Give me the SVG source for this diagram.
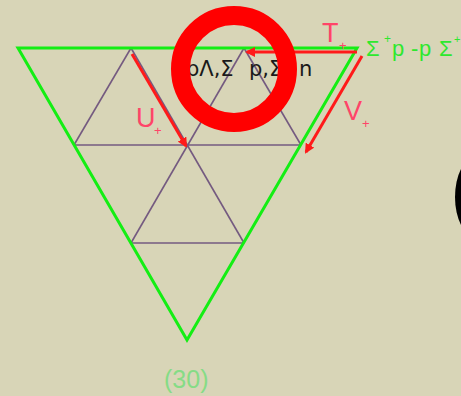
<svg xmlns="http://www.w3.org/2000/svg" width="461" height="396" viewBox="0 0 461 396">
<defs>
<style>
.grid{stroke:#745a80;stroke-width:1.6;fill:none}
.green{stroke:#14ee14;stroke-width:3;fill:none;stroke-linejoin:miter}
.arr{stroke:#ff1a1a;stroke-width:3;fill:none}
.lbl{font-family:"Liberation Sans",sans-serif;fill:#ff4468;font-size:27px}
.sub{font-family:"Liberation Sans",sans-serif;fill:#ff4468;font-size:13px}
.blk{font-family:"DejaVu Sans",sans-serif;fill:#1a1a1a;font-size:21px}
.grn{font-family:"Liberation Sans",sans-serif;fill:#2ee82e;font-size:22px}
</style>
<marker id="ah" markerWidth="10" markerHeight="10" refX="8" refY="5" orient="auto" markerUnits="userSpaceOnUse">
<path d="M0,0 L10,5 L0,10 z" fill="#ff1a1a"/>
</marker>
</defs>
<rect width="461" height="396" fill="#d8d5b7"/>
<g id="grid">
<line class="grid" x1="74" y1="145" x2="301" y2="145"/>
<line class="grid" x1="131" y1="243" x2="244" y2="243"/>
<line class="grid" x1="131" y1="48" x2="244" y2="243"/>
<line class="grid" x1="244" y1="48" x2="301" y2="145"/>
<line class="grid" x1="244" y1="48" x2="131" y2="243"/>
<line class="grid" x1="131" y1="48" x2="74" y2="145"/>
</g>
<g id="triangle">
<path class="green" d="M18,48 L357,48 L187,340 Z"/>
</g>
<g id="connectors">
<line class="arr" x1="357" y1="52" x2="247" y2="52" marker-end="url(#ah)"/>
<line class="arr" x1="132" y1="54" x2="186" y2="146" marker-end="url(#ah)"/>
<line class="arr" x1="362" y1="56" x2="306" y2="152" marker-end="url(#ah)"/>
</g>
<g id="labels">
<text class="lbl" x="322" y="42">T</text>
<text class="sub" x="339" y="50">+</text>
<text class="lbl" x="136" y="127">U</text>
<text class="sub" x="154" y="135">+</text>
<text class="lbl" x="344" y="120">V</text>
<text class="sub" x="362" y="128">+</text>
<text class="blk" y="76"><tspan x="186">pΛ,Σ</tspan><tspan x="249">p,Σ</tspan><tspan x="299">n</tspan></text>
<text class="grn" y="56"><tspan x="366">Σ</tspan><tspan x="384" dy="-13" font-size="12">+</tspan><tspan x="392" dy="13">p</tspan><tspan x="411">-</tspan><tspan x="419">p</tspan><tspan x="439">Σ</tspan><tspan x="454" dy="-13" font-size="11">+</tspan></text>
<text x="164" y="388" font-family="Liberation Sans,sans-serif" font-size="25" fill="#86dc86">(30)</text>
</g>
<g id="circle">
<circle cx="234" cy="69" r="53.5" fill="none" stroke="#ff0000" stroke-width="19"/>
</g>
<ellipse cx="476" cy="197" rx="21" ry="40" fill="#000"/>
</svg>
